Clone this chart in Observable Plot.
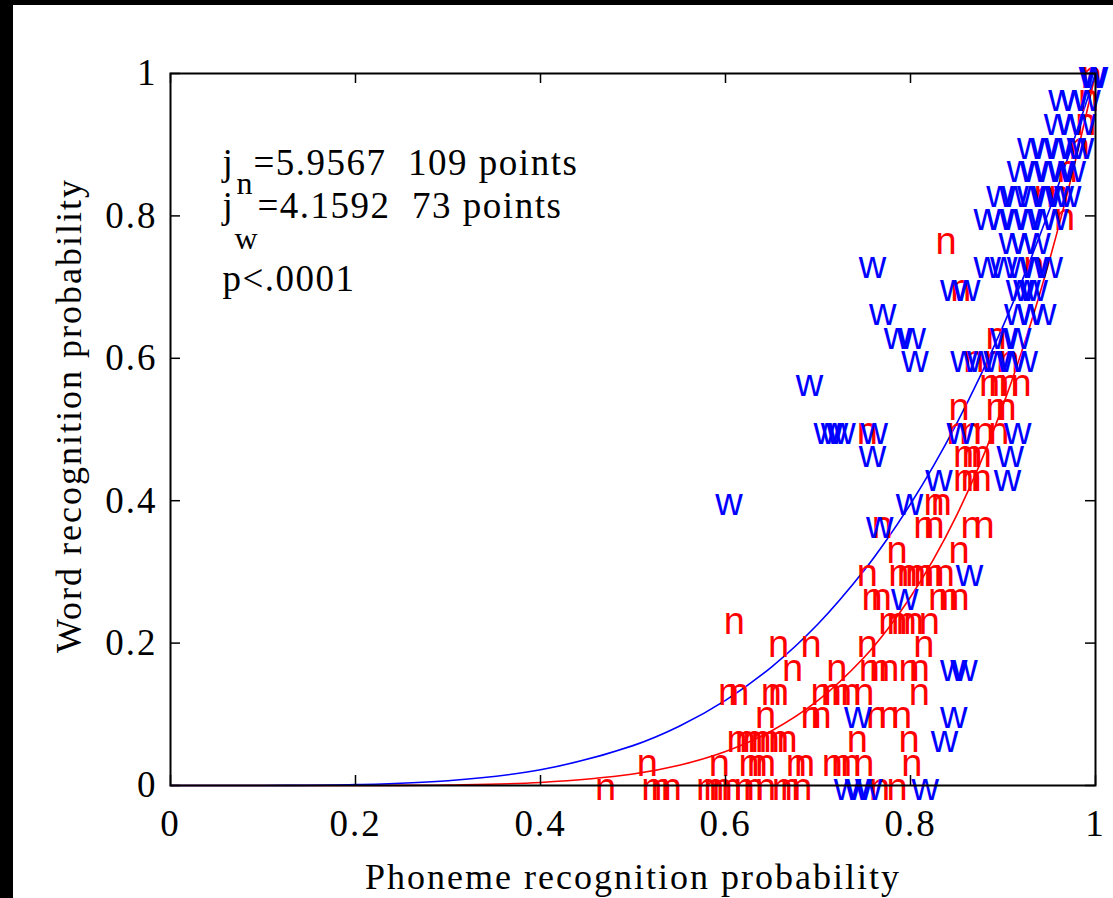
<!DOCTYPE html>
<html><head><meta charset="utf-8">
<script src="https://cdn.jsdelivr.net/npm/d3@7"></script>
<script src="https://cdn.jsdelivr.net/npm/@observablehq/plot@0.6"></script>
<style>
html,body{margin:0;padding:0;background:#000;width:1113px;height:898px;overflow:hidden}
#chart{position:absolute;left:13px;top:5px;width:1100px;height:893px;background:#fff}
#chart svg text{white-space:pre;letter-spacing:2px}
</style></head><body><div id="chart"></div>
<script>
// Tick values and labels
const xTicks = [0, 0.2, 0.4, 0.6, 0.8, 1];
const xTickLabels = ["0", "0.2", "0.4", "0.6", "0.8", "1"];
const yTicks = [0, 0.2, 0.4, 0.6, 0.8, 1];
const yTickLabels = ["0", "0.2", "0.4", "0.6", "0.8", "1"];
const xTitle = "Phoneme recognition probability";
const yTitle = "Word recognition probability";

// Fitted curves (word prob vs phoneme prob)
const curveX    = [0, 0.1, 0.2, 0.3, 0.4, 0.5, 0.55, 0.6, 0.65, 0.7, 0.75, 0.775, 0.8, 0.825, 0.85, 0.875, 0.9, 0.925, 0.95, 0.975, 1];
const curveBlue = [0, 0.0001, 0.0012, 0.0067, 0.0221, 0.056, 0.0832, 0.1195, 0.1667, 0.2268, 0.3022, 0.3464, 0.3953, 0.4493, 0.5087, 0.5738, 0.6452, 0.7231, 0.8079, 0.9001, 1];
const curveRed  = [0, 0, 0.0001, 0.0008, 0.0043, 0.0161, 0.0284, 0.0477, 0.0768, 0.1194, 0.1802, 0.2191, 0.2647, 0.3179, 0.3798, 0.4514, 0.5339, 0.6285, 0.7367, 0.86, 1];

// "n" points: [phoneme prob, word prob]
const nPoints = [
  [0.459,0],[0.509,0],[0.519,0],[0.530,0],[0.568,0],[0.576,0],[0.585,0],[0.595,0],[0.609,0],[0.619,0],[0.632,0],[0.650,0],[0.659,0],[0.671,0],[0.755,0],[0.774,0],
  [0.504,0.033],[0.582,0.033],[0.614,0.033],[0.623,0.033],[0.632,0.033],[0.665,0.033],[0.674,0.033],[0.704,0.033],[0.714,0.033],[0.724,0.033],[0.738,0.033],[0.790,0.033],
  [0.601,0.067],[0.610,0.067],[0.618,0.067],[0.627,0.067],[0.636,0.067],[0.646,0.067],[0.655,0.067],[0.731,0.067],[0.787,0.067],
  [0.632,0.1],[0.681,0.1],[0.692,0.1],[0.752,0.1],[0.765,0.1],[0.779,0.1],
  [0.592,0.133],[0.603,0.133],[0.638,0.133],[0.646,0.133],[0.692,0.133],[0.703,0.133],[0.714,0.133],[0.724,0.133],[0.738,0.133],[0.798,0.133],
  [0.661,0.167],[0.709,0.167],[0.744,0.167],[0.755,0.167],[0.765,0.167],[0.787,0.167],[0.798,0.167],
  [0.646,0.2],[0.681,0.2],[0.742,0.2],[0.803,0.2],
  [0.598,0.233],[0.765,0.233],[0.774,0.233],[0.784,0.233],[0.792,0.233],[0.809,0.233],
  [0.747,0.267],[0.757,0.267],[0.819,0.267],[0.830,0.267],[0.841,0.267],
  [0.742,0.3],[0.776,0.3],[0.785,0.3],[0.794,0.3],[0.803,0.3],[0.814,0.3],[0.825,0.3],
  [0.774,0.333],[0.841,0.333],
  [0.758,0.367],[0.803,0.367],[0.814,0.367],[0.854,0.367],[0.868,0.367],
  [0.814,0.4],[0.822,0.4],
  [0.846,0.433],[0.854,0.433],[0.865,0.433],
  [0.846,0.467],[0.855,0.467],[0.865,0.467],
  [0.742,0.5],[0.839,0.5],[0.854,0.5],[0.868,0.5],[0.884,0.5],
  [0.841,0.533],[0.881,0.533],[0.892,0.533],
  [0.874,0.567],[0.884,0.567],[0.895,0.567],[0.908,0.567],
  [0.857,0.6],[0.879,0.6],[0.895,0.6],
  [0.881,0.633],[0.843,0.7],[0.922,0.733],[0.827,0.767],[0.955,0.8],
  [0.933,0.833],[0.949,0.833],[0.958,0.867],[0.971,0.9],[0.978,0.933],[0.981,0.967],[0.984,1]
];

// "w" points: [phoneme prob, word prob]
const wPoints = [
  [0.717,0],[0.729,0],[0.740,0],[0.801,0],
  [0.822,0.067],
  [0.728,0.1],[0.832,0.1],
  [0.832,0.167],[0.843,0.167],
  [0.779,0.267],
  [0.849,0.3],
  [0.752,0.367],
  [0.589,0.4],[0.784,0.4],
  [0.816,0.433],[0.890,0.433],
  [0.744,0.467],[0.893,0.467],
  [0.695,0.5],[0.703,0.5],[0.711,0.5],[0.746,0.5],[0.839,0.5],[0.901,0.5],
  [0.676,0.567],
  [0.790,0.6],[0.843,0.6],[0.861,0.6],[0.879,0.6],[0.895,0.6],[0.908,0.6],
  [0.771,0.633],[0.787,0.633],[0.886,0.633],[0.901,0.633],
  [0.755,0.667],[0.901,0.667],[0.915,0.667],[0.928,0.667],
  [0.832,0.7],[0.846,0.7],[0.903,0.7],[0.911,0.7],[0.919,0.7],
  [0.744,0.733],[0.868,0.733],[0.886,0.733],[0.904,0.733],[0.919,0.733],[0.935,0.733],
  [0.895,0.767],[0.908,0.767],[0.922,0.767],
  [0.868,0.8],[0.882,0.8],[0.897,0.8],[0.912,0.8],[0.928,0.8],[0.941,0.8],
  [0.882,0.833],[0.898,0.833],[0.915,0.833],[0.931,0.833],[0.947,0.833],[0.955,0.833],
  [0.904,0.867],[0.919,0.867],[0.934,0.867],[0.949,0.867],[0.960,0.867],
  [0.915,0.9],[0.930,0.9],[0.945,0.9],[0.960,0.9],[0.969,0.9],
  [0.944,0.933],[0.958,0.933],[0.971,0.933],
  [0.949,0.967],[0.962,0.967],[0.976,0.967],
  [0.982,1],[0.984,1]
];

const annotJn = ["j", "n", "=5.9567  109 points"];
const annotJw = ["j", "w", "=4.1592  73 points"];
const annotP = "p<.0001";

const W = 1100, H = 893, mL = 157, mR = 18, mT = 68, mB = 113;
const fw = W - mL - mR, fh = H - mT - mB;
const serif = "'Liberation Serif', 'Times New Roman', serif";
const sans = "'Liberation Sans', Arial, sans-serif";

const blueData = curveX.map((x, i) => ({x, y: curveBlue[i]}));
const redData = curveX.map((x, i) => ({x, y: curveRed[i]}));

const ann = (t, dx, dy, fs) => Plot.text([t], {frameAnchor: "top-left", textAnchor: "start", lineAnchor: "bottom", dx, dy, fontSize: fs, fontFamily: serif});

const chart = Plot.plot({
  width: W, height: H,
  marginLeft: mL, marginRight: mR, marginTop: mT, marginBottom: mB,
  style: {fontFamily: serif, fontSize: "37px", background: "white", color: "black"},
  x: {domain: [0, 1]},
  y: {domain: [0, 1]},
  marks: [
    Plot.line(redData, {x: "x", y: "y", stroke: "#ff0000", strokeWidth: 1.6, curve: "catmull-rom"}),
    Plot.line(blueData, {x: "x", y: "y", stroke: "#0000ff", strokeWidth: 1.6, curve: "catmull-rom"}),
    Plot.text(nPoints, {x: d => d[0], y: d => d[1], text: () => "n", fill: "#ff0000", textAnchor: "start", fontFamily: sans, fontSize: 38, dy: 2}),
    Plot.text(wPoints, {x: d => d[0], y: d => d[1], text: () => "w", fill: "#0000ff", textAnchor: "start", fontFamily: sans, fontSize: 38, dy: 2}),
    Plot.frame({stroke: "black", strokeWidth: 2}),
    Plot.tickX(xTicks, {insetTop: fh - 10, stroke: "black", strokeWidth: 1.5}),
    Plot.tickX(xTicks, {insetBottom: fh - 10, stroke: "black", strokeWidth: 1.5}),
    Plot.tickY(yTicks, {insetRight: fw - 10, stroke: "black", strokeWidth: 1.5}),
    Plot.tickY(yTicks, {insetLeft: fw - 10, stroke: "black", strokeWidth: 1.5}),
    Plot.axisX({ticks: xTicks, tickFormat: d => xTickLabels[xTicks.indexOf(d)], tickSize: 0, tickPadding: 24, label: null, fontSize: 37}),
    Plot.axisY({ticks: yTicks, tickFormat: d => yTickLabels[yTicks.indexOf(d)], tickSize: 0, tickPadding: 13, label: null, fontSize: 37}),
    Plot.text([xTitle], {frameAnchor: "bottom", textAnchor: "middle", dy: 103, lineAnchor: "bottom", fontSize: 36}),
    Plot.text([yTitle], {frameAnchor: "left", textAnchor: "middle", rotate: -90, dx: -90, dy: -14, lineAnchor: "bottom", fontSize: 36}),
    ann(annotJn[0], 52, 101, 37),
    ann(annotJn[1], 66, 120, 32),
    ann(annotJn[2], 83, 101, 37),
    ann(annotJw[0], 52, 144, 37),
    ann(annotJw[1], 64, 175, 32),
    ann(annotJw[2], 87, 144, 37),
    ann(annotP, 52, 217, 37)
  ]
});
document.getElementById("chart").appendChild(chart);
d3.select(chart).selectAll("text")
  .filter(function() { return /points|p</.test(this.textContent); })
  .style("letter-spacing", "1.5px");
</script></body></html>
